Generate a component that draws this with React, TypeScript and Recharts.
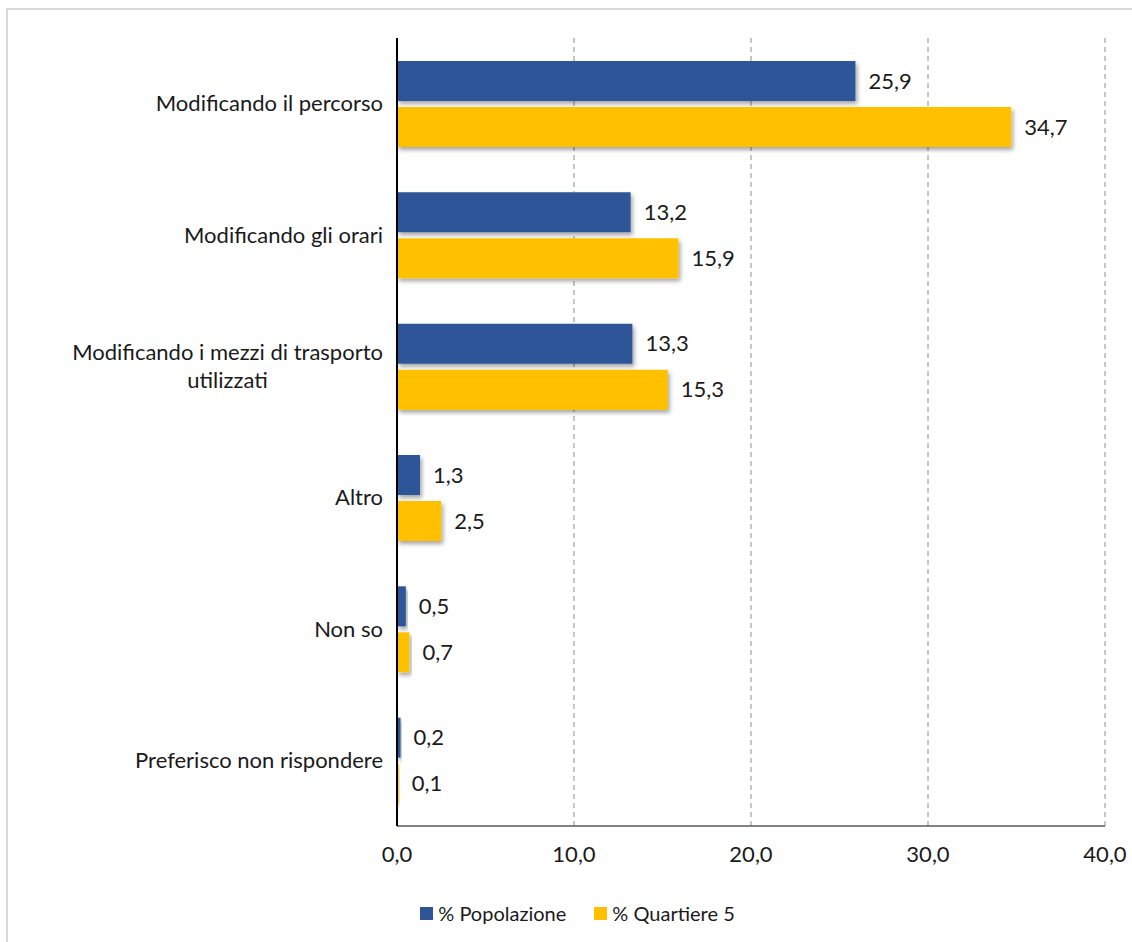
import React from "react";
import {
  BarChart,
  Bar,
  XAxis,
  YAxis,
  CartesianGrid,
  Legend,
  LabelList,
} from "recharts";

const categories = [
  "Modificando il percorso",
  "Modificando gli orari",
  "Modificando i mezzi di trasporto\nutilizzati",
  "Altro",
  "Non so",
  "Preferisco non rispondere",
];
const popolazione = [25.9, 13.2, 13.3, 1.3, 0.5, 0.2];
const quartiere = [34.7, 15.9, 15.3, 2.5, 0.7, 0.1];
const xTicks = [0, 10, 20, 30, 40];

const data = categories.map((name, i) => ({
  name,
  pop: popolazione[i],
  q5: quartiere[i],
}));

const FONT = "Lato, 'Noto Sans', sans-serif";
const FONT_SIZE = 22;
const TEXT = "#1a1a1a";

const fmt = (v: number) => v.toFixed(1).replace(".", ",");

let ctx: CanvasRenderingContext2D | null = null;
const measure = (s: string) => {
  if (!ctx) ctx = document.createElement("canvas").getContext("2d");
  if (!ctx) return s.length * FONT_SIZE * 0.5;
  ctx.font = `${FONT_SIZE}px ${FONT}`;
  return ctx.measureText(s).width;
};

const CategoryTick = (props: any) => {
  const { x, y, payload } = props;
  const lines: string[] = String(payload.value).split("\n");
  if (lines.length === 1) {
    return (
      <text x={x} y={y} dy="0.35em" textAnchor="end" fill={TEXT} fontSize={FONT_SIZE} fontFamily={FONT}>
        {lines[0]}
      </text>
    );
  }
  const w = Math.max(...lines.map(measure));
  const cx = x - w / 2;
  const lh = 28;
  const start = y - ((lines.length - 1) * lh) / 2;
  return (
    <text textAnchor="middle" fill={TEXT} fontSize={FONT_SIZE} fontFamily={FONT}>
      {lines.map((l, i) => (
        <tspan key={i} x={cx} y={start + i * lh} dy="0.35em">
          {l}
        </tspan>
      ))}
    </text>
  );
};

const LegendContent = () => (
  <div
    style={{
      display: "flex",
      justifyContent: "center",
      gap: 28,
      fontFamily: FONT,
      fontSize: 20,
      color: TEXT,
      paddingTop: 15,
      paddingLeft: 50,
    }}
  >
    {[
      { c: "#2F5597", n: "% Popolazione" },
      { c: "#FFC000", n: "% Quartiere 5" },
    ].map((it) => (
      <div key={it.n} style={{ display: "flex", alignItems: "center", gap: 5 }}>
        <span style={{ width: 13, height: 13, background: it.c, display: "inline-block" }} />
        <span>{it.n}</span>
      </div>
    ))}
  </div>
);

export default function App() {
  return (
    <div>
      <div
        style={{
          position: "absolute",
          left: 6,
          top: 8,
          width: 1126,
          height: 934,
          borderTop: "2px solid #d9d9d9",
          borderLeft: "2px solid #d9d9d9",
          boxSizing: "border-box",
        }}
      />
      <div style={{ position: "absolute", left: 0, top: 0 }}>
        <BarChart
          width={1132}
          height={942}
          data={data}
          layout="vertical"
          margin={{ top: 38, right: 27, left: 0, bottom: 0 }}
          barSize={40}
          barGap={6}
        >
          <defs>
            <filter id="shadow" x="-10%" y="-20%" width="130%" height="160%">
              <feDropShadow dx="2" dy="3" stdDeviation="2" floodColor="#000" floodOpacity="0.35" />
            </filter>
          </defs>
          <CartesianGrid horizontal={false} stroke="#8c8c8c" strokeDasharray="5 4" />
          <XAxis
            type="number"
            domain={[0, 40]}
            ticks={xTicks}
            tickFormatter={fmt}
            axisLine={{ stroke: "#595959", strokeWidth: 1.5 }}
            tickLine={false}
            tickSize={0}
            tickMargin={20}
            height={60}
            tick={{ fill: TEXT, fontSize: FONT_SIZE, fontFamily: FONT }}
          />
          <YAxis
            type="category"
            dataKey="name"
            width={397}
            axisLine={{ stroke: "#000", strokeWidth: 2 }}
            tickLine={false}
            tickSize={0}
            tickMargin={14}
            tick={<CategoryTick />}
            interval={0}
          />
          <Legend verticalAlign="bottom" wrapperStyle={{ height: 56 }} content={<LegendContent />} />
          <Bar dataKey="pop" name="% Popolazione" fill="#2F5597" isAnimationActive={false} style={{ filter: "url(#shadow)" }}>
            <LabelList dataKey="pop" position="right" offset={13} formatter={(v: any) => fmt(Number(v))} fill={TEXT} fontSize={FONT_SIZE} fontFamily={FONT} />
          </Bar>
          <Bar dataKey="q5" name="% Quartiere 5" fill="#FFC000" isAnimationActive={false} style={{ filter: "url(#shadow)" }}>
            <LabelList dataKey="q5" position="right" offset={13} formatter={(v: any) => fmt(Number(v))} fill={TEXT} fontSize={FONT_SIZE} fontFamily={FONT} />
          </Bar>
        </BarChart>
      </div>
    </div>
  );
}
